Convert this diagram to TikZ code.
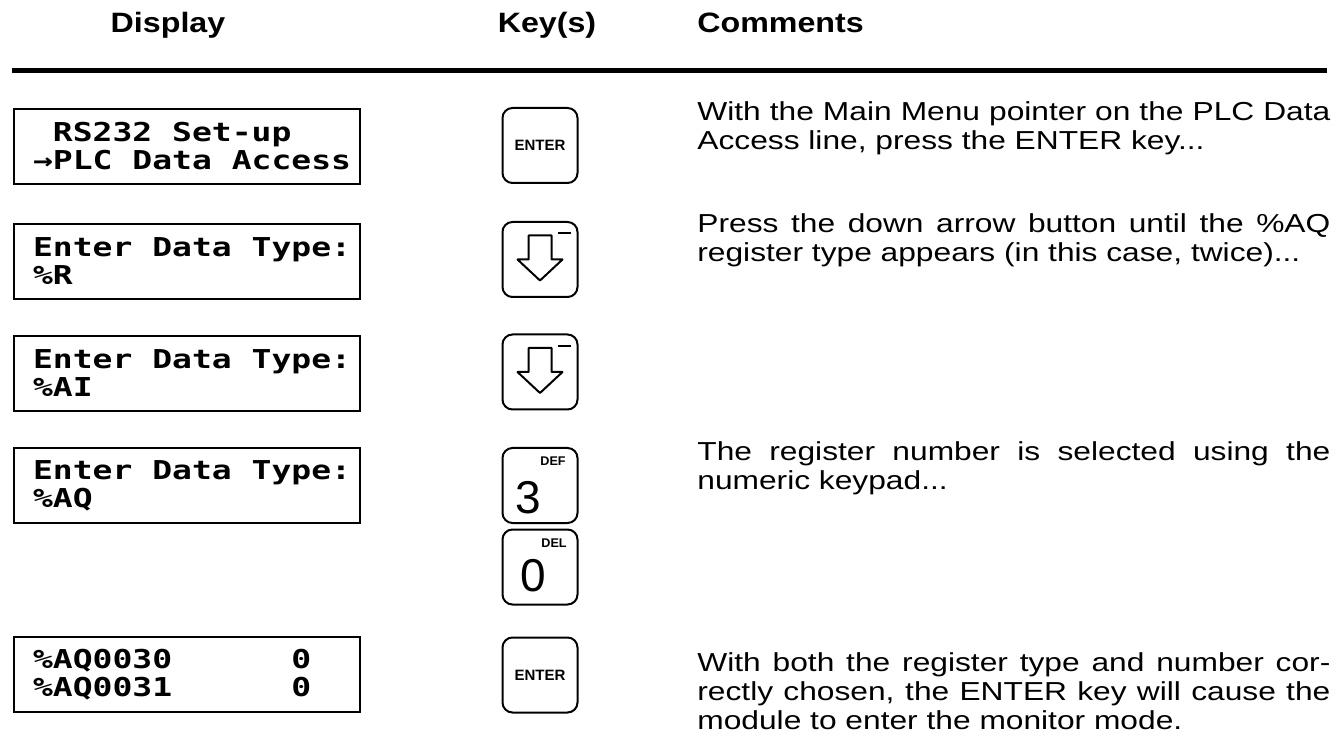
\documentclass[tikz,border=0pt]{standalone}
\usepackage{fontspec}
\setmainfont{Liberation Sans}
\newfontfamily\bodyfont[FakeStretch=1.22]{Liberation Sans}
\newfontfamily\headfont[FakeStretch=1.15]{Liberation Sans}
\newfontfamily\lcdfont[FakeStretch=1.27]{DejaVu Sans Mono}
\newcommand{\lcdgap}{\hphantom{0}}
\usetikzlibrary{calc}

\begin{document}
\begin{tikzpicture}[x=0.5pt,y=-0.5pt,
        lcd/.style={draw, line width=1pt, anchor=north west, minimum width=173pt, minimum height=37.5pt,
            inner xsep=9.5pt, text width=154pt, align=left, font=\lcdfont\bfseries\fontsize{13}{14}\selectfont},
        keycap/.style={draw, line width=1pt, rounded corners=5pt, minimum size=37.5pt, inner sep=0pt},
        enterkey/.style={keycap, font=\bfseries\fontsize{7.5}{8}\selectfont},
        keytag/.style={inner sep=0pt, font=\bfseries\fontsize{6.3}{7}\selectfont},
        keydigit/.style={inner sep=0pt, font=\fontsize{23}{23}\selectfont},
        comment/.style={anchor=base west, inner sep=0pt, text width=316.5pt, align=justify, font=\bodyfont\fontsize{13}{14.5}\selectfont},
        head/.style={inner sep=0pt, font=\headfont\bfseries\fontsize{14}{14}\selectfont},
        downglyph/.pic={
            \draw[line width=1pt, line join=round] (-11.5,-24) -- (-11.5,0) -- (-22.5,0) -- (0,21) -- (22.5,0) -- (11.5,0) -- (11.5,-24) -- cycle;
            \draw[line width=1pt] (18,-26) -- (31,-26);
        }]
        \useasboundingbox (0,0) rectangle (1336,747);
        % headings
        \node[head, anchor=base] (hdisp) at (168,33) {Display};
        \node[head, anchor=base] (hkeys) at (547,33) {Key(s)};
        \node[head, anchor=base west] (hcomm) at (697,33) {Comments};
        \coordinate (rulel) at (12,71);
        \coordinate (ruler) at (1327,71);
        \draw[line width=2.5pt] (rulel) -- (ruler);
        % displays
        \node[lcd] (disp1) at (13,108) {\lcdgap RS232\lcdgap Set-up\\→PLC\lcdgap Data\lcdgap Access};
        \node[lcd] (disp2) at (13,223) {Enter\lcdgap Data\lcdgap Type:\\\%R};
        \node[lcd] (disp3) at (13,335) {Enter\lcdgap Data\lcdgap Type:\\\%AI};
        \node[lcd] (disp4) at (13,447) {Enter\lcdgap Data\lcdgap Type:\\\%AQ};
        \node[lcd] (disp5) at (13,636) {\%AQ0030\hphantom{000000}0\\\%AQ0031\hphantom{000000}0};
        % keys
        \node[enterkey] (key1) at (540,145.5) {ENTER};
        \node[keycap] (key2) at (540,259.5) {};
        \pic at (key2.center) {downglyph};
        \node[keycap] (key3) at (540,372) {};
        \pic at (key3.center) {downglyph};
        \node[keycap] (key4) at (540,485.5) {};
        \node[keydigit] (dig4) at ([shift={(-12,12)}]key4.center) {3};
        \node[keytag] (tag4) at ([shift={(13,-24)}]key4.center) {DEF};
        \node[keycap] (key5) at (540,567) {};
        \node[keydigit] (dig5) at ([shift={(-7,9)}]key5.center) {0};
        \node[keytag] (tag5) at ([shift={(14,-24)}]key5.center) {DEL};
        \node[enterkey] (key6) at (540,675) {ENTER};
        % comments
        \node[comment] (note1) at (697,121) {With the Main Menu pointer on the PLC Data\linebreak
            Access line, press the ENTER key...};
        \node[comment] (note2) at (697,233) {Press the down arrow button until the \%AQ\linebreak
            register type appears (in this case, twice)...};
        \node[comment] (note4) at (697,461) {The register number is selected using the\linebreak
            numeric keypad...};
        \node[comment] (note5) at (697,671) {With both the register type and number cor-\linebreak
            rectly chosen, the ENTER key will cause the\linebreak
            module to enter the monitor mode.};
\end{tikzpicture}
\end{document}
